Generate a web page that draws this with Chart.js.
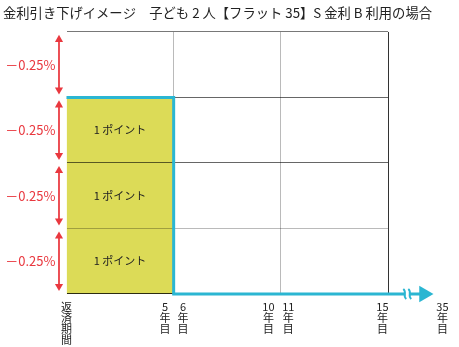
<!DOCTYPE html>
<html>
<head>
<meta charset="utf-8">
<script src="https://cdn.jsdelivr.net/npm/chart.js@4.4.1/dist/chart.umd.min.js"></script>
<style>
  html, body { margin: 0; padding: 0; background: #ffffff; }
  #c { display: block; }
</style>
</head>
<body>
<canvas id="c" width="459" height="347"></canvas>
<script>
// ---------------- data ----------------
const titleText = '金利引き下げイメージ　子ども 2 人【フラット 35】S 金利 B 利用の場合';
const bandEdges = [0, 0.25, 0.5, 0.75, 1.0];            // rate reduction bands (%)
const bandLabels = ['－0.25%', '－0.25%', '－0.25%', '－0.25%'];
const pointBands = [0, 1, 2];                              // bands covered by points
const pointLabels = ['1 ポイント', '1 ポイント', '1 ポイント'];
const periodYears = [0, 5];                                // reduction period (years)
const periodReduction = [0.75, 0.75];                      // total reduction during period
const rateLineX = [0, 5, 5, 16.68];                        // reduction path (years)
const rateLineY = [0.75, 0.75, 0, 0];
const breakAt = 15.9;                                      // axis break (15 → 35 years)
const yearLines = [5, 10, 15];
const xTickPos = [0, 4.6, 5.44, 9.42, 10.35, 14.74, 17.54];
const xTickLabels = [
  ['返', '済', '期', '間'],
  ['5', '年', '目'],
  ['6', '年', '目'],
  ['10', '年', '目'],
  ['11', '年', '目'],
  ['15', '年', '目'],
  ['35', '年', '目']
];

// ---------------- styles ----------------
const FONT = "'Noto Sans CJK JP', 'Noto Sans', sans-serif";
const CYAN = '#2bb6d2';
const YELLOW = '#dcdb57';
const RED = '#e9383f';
const ARROW_GAP = 0.029;
const yGridColors = { 0: 'rgba(0,0,0,0.8)', 0.25: 'rgba(0,0,0,0.27)', 0.5: 'rgba(0,0,0,0.6)', 0.75: 'rgba(0,0,0,0.6)', 1: 'rgba(0,0,0,0.53)' };
const xGridColors = { 5: 'rgba(0,0,0,0.27)', 10: 'rgba(0,0,0,0.27)', 15: 'rgba(0,0,0,0.8)' };

const bandMids = bandLabels.map((_, i) => (bandEdges[i] + bandEdges[i + 1]) / 2);

const datasets = [];
// yellow "points" area
datasets.push({
  data: periodYears.map((x, i) => ({ x, y: periodReduction[i] })),
  fill: 'origin',
  backgroundColor: YELLOW,
  borderWidth: 0,
  pointRadius: 0,
  order: 3
});
// red double arrows for each band
bandLabels.forEach((_, i) => {
  datasets.push({
    data: [
      { x: -0.35, y: bandEdges[i + 1] - ARROW_GAP },
      { x: -0.35, y: bandEdges[i] + ARROW_GAP }
    ],
    borderColor: RED,
    borderWidth: 1,
    pointStyle: 'triangle',
    pointRotation: [0, 180],
    pointRadius: 4.7,
    pointBackgroundColor: RED,
    pointBorderColor: RED,
    pointBorderWidth: 0,
    fill: false,
    clip: false,
    order: 2
  });
});
// cyan reduction path with arrow head
datasets.push({
  data: rateLineX.map((x, i) => ({ x, y: rateLineY[i] })),
  borderColor: CYAN,
  borderWidth: 3,
  borderJoinStyle: 'miter',
  borderCapStyle: 'butt',
  tension: 0,
  fill: false,
  pointStyle: 'triangle',
  pointRotation: 90,
  pointRadius: rateLineX.map((_, i) => i === rateLineX.length - 1 ? 9.5 : 0),
  pointBackgroundColor: CYAN,
  pointBorderColor: CYAN,
  pointBorderWidth: 0,
  clip: false,
  order: 1
});

const overlayPlugin = {
  id: 'overlay',
  afterDatasetsDraw(chart) {
    const { ctx, scales: { x, y } } = chart;
    ctx.save();
    // arrow heads (points lying outside the chart area)
    chart.data.datasets.forEach((ds, di) => {
      if (ds.clip !== false) return;
      const meta = chart.getDatasetMeta(di);
      meta.data.forEach(el => {
        const o = el.options;
        if (!o || o.radius < 0.1) return;
        ctx.fillStyle = o.backgroundColor;
        ctx.strokeStyle = o.borderColor;
        ctx.lineWidth = o.borderWidth;
        Chart.helpers.drawPoint(ctx, o, el.x, el.y);
      });
    });
    // point labels
    ctx.font = '11px ' + FONT;
    ctx.fillStyle = '#222';
    ctx.textAlign = 'center';
    ctx.textBaseline = 'middle';
    const cx = x.getPixelForValue((periodYears[0] + periodYears[1]) / 2);
    pointBands.forEach((b, i) => {
      ctx.fillText(pointLabels[i], cx, y.getPixelForValue(bandMids[b]));
    });
    // axis break symbol
    const bx = x.getPixelForValue(breakAt);
    const by = y.getPixelForValue(0);
    ctx.fillStyle = '#ffffff';
    ctx.fillRect(bx - 2, by - 3, 4, 6);
    ctx.strokeStyle = CYAN;
    ctx.lineWidth = 2;
    [-2.5, 2.5].forEach(dx => {
      ctx.beginPath();
      ctx.moveTo(bx + dx - 1.5, by - 5);
      ctx.bezierCurveTo(bx + dx + 2.5, by - 2, bx + dx - 2.5, by + 2, bx + dx + 1.5, by + 5);
      ctx.stroke();
    });
    ctx.restore();
  }
};

new Chart(document.getElementById('c'), {
  type: 'line',
  data: { datasets },
  plugins: [overlayPlugin],
  options: {
    responsive: false,
    devicePixelRatio: 1,
    animation: false,
    events: [],
    layout: { padding: { left: 3, right: 0, top: 0, bottom: 0 } },
    plugins: {
      legend: { display: false },
      tooltip: { enabled: false },
      filler: { drawTime: 'beforeDraw' },
      title: {
        display: true,
        text: titleText,
        align: 'start',
        color: '#222',
        font: { family: FONT, size: 13.3, weight: 'normal', lineHeight: 1.2 },
        padding: { top: 4.5, bottom: 11.5 }
      }
    },
    scales: {
      x: {
        type: 'linear',
        min: 0,
        max: 15,
        afterBuildTicks: s => {
          const vals = [...new Set([...yearLines, ...xTickPos])].sort((a, b) => a - b);
          s.ticks = vals.map(v => ({ value: v }));
        },
        afterFit: s => { s.height = 53; s.paddingLeft = 0; s.paddingRight = 0; },
        border: { display: false },
        grid: {
          drawTicks: false,
          lineWidth: 1,
          color: ctx => (ctx.tick && xGridColors[ctx.tick.value]) || 'transparent'
        },
        ticks: {
          autoSkip: false,
          maxRotation: 0,
          minRotation: 0,
          padding: 7,
          color: '#222',
          font: { family: FONT, size: 11, lineHeight: 1.0 },
          callback: v => {
            const i = xTickPos.indexOf(v);
            return i >= 0 ? xTickLabels[i] : '';
          }
        }
      },
      y: {
        type: 'linear',
        min: 0,
        max: 1,
        afterBuildTicks: s => {
          const vals = [...bandEdges, ...bandMids].sort((a, b) => a - b);
          s.ticks = vals.map(v => ({ value: v }));
        },
        afterFit: s => { s.width = 63.5; s.paddingTop = 0; s.paddingBottom = 0; },
        border: { display: false },
        grid: {
          drawTicks: false,
          lineWidth: 1,
          color: ctx => (ctx.tick && yGridColors[ctx.tick.value]) || 'transparent'
        },
        ticks: {
          autoSkip: false,
          padding: 11,
          color: RED,
          font: { family: FONT, size: 13 },
          callback: v => {
            const i = bandMids.indexOf(v);
            return i >= 0 ? bandLabels[i] : '';
          }
        }
      },
      yr: {
        type: 'linear',
        position: 'right',
        min: 0,
        max: 1,
        afterFit: s => { s.width = 71; s.paddingTop = 0; s.paddingBottom = 0; },
        border: { display: false },
        grid: { display: false, drawTicks: false },
        ticks: { display: false }
      }
    }
  }
});
</script>
</body>
</html>
